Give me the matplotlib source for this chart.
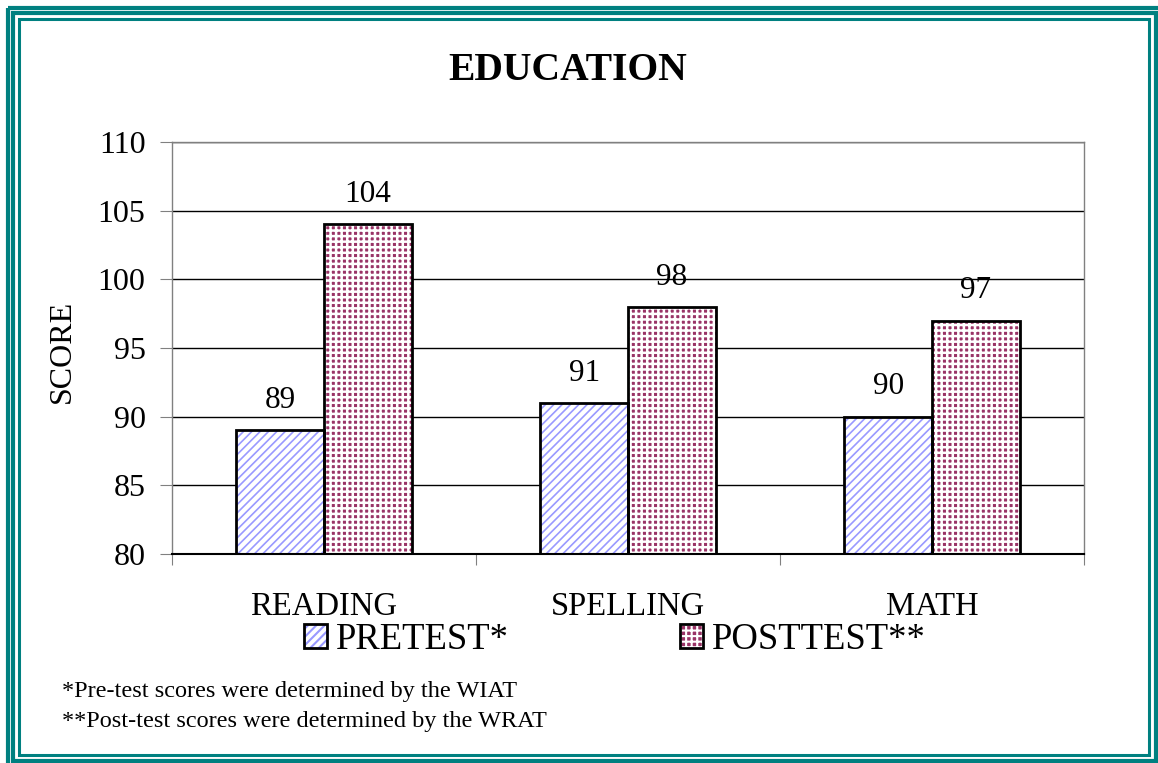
import numpy as np
import matplotlib
matplotlib.use("Agg")
import matplotlib.pyplot as plt
from matplotlib.patches import Patch, Rectangle

plt.rcParams['font.family'] = ['Liberation Serif', 'DejaVu Serif']
plt.rcParams['hatch.linewidth'] = 1.5

# data
categories = ['READING', 'SPELLING', 'MATH']
pretest = [89, 91, 90]
posttest = [104, 98, 97]
series_names = ['PRETEST*', 'POSTTEST**']
footnotes = ['*Pre-test scores were determined by the WIAT',
             '**Post-test scores were determined by the WRAT']

teal = '#008080'
pre_col = '#9999FF'
post_col = '#993366'


def hatch_width(patches, lw):
    # per-patch hatch width if this matplotlib has it
    for p in patches:
        if hasattr(p, 'set_hatch_linewidth'):
            p.set_hatch_linewidth(lw)


fig = plt.figure(figsize=(11.58, 7.63), dpi=100)

# frame drawn in pixel coordinates
frame = fig.add_axes([0, 0, 1, 1])
frame.set_xlim(0, 1158)
frame.set_ylim(763, 0)
frame.axis('off')
for (l, t, r, b, w) in [(7.5, 7.5, 1163, 768, 3.0),
                        (13.0, 13.0, 1155.5, 761, 3.0),
                        (18.5, 18.5, 1149.0, 755, 2.2)]:
    frame.add_patch(Rectangle((l, t), r - l, b - t, fill=False,
                              edgecolor=teal, linewidth=w))

ax = fig.add_axes([0.1485, 0.2739, 0.7876, 0.54])
x = np.arange(len(categories))
w = 0.288
base = 80

# pretest: light blue stripes on white
h = np.array(pretest) - base
bars = ax.bar(x - w / 2, h, w, bottom=base, color='white',
              edgecolor=pre_col, hatch='////', linewidth=0, zorder=2)
hatch_width(bars, 1.2)
ax.bar(x - w / 2, h, w, bottom=base, fill=False, edgecolor='black',
       linewidth=2, zorder=3)

# posttest: maroon background with white grid -> dotted look
h = np.array(posttest) - base
bars = ax.bar(x + w / 2, h, w, bottom=base, color=post_col,
              edgecolor='white', hatch='+++', linewidth=0, zorder=2)
hatch_width(bars, 1.8)
ax.bar(x + w / 2, h, w, bottom=base, fill=False, edgecolor='black',
       linewidth=2, zorder=3)

for off, vals in [(-w / 2, pretest), (w / 2, posttest)]:
    for xi, v in zip(x + off, vals):
        ax.annotate(str(v), (xi, v), xytext=(0, 16), textcoords='offset points',
                    ha='center', va='baseline', fontsize=22.5)

ax.set_ylim(80, 110)
ax.set_xlim(-0.5, 2.5)
ax.set_yticks(np.arange(80, 111, 5))
ax.tick_params(axis='y', labelsize=23, length=9, color='#808080', pad=10)
ax.yaxis.grid(True, color='black', linewidth=1)
ax.set_axisbelow(True)

ax.set_xticks([-0.5, 0.5, 1.5, 2.5])
ax.set_xticklabels([])
ax.tick_params(axis='x', which='major', length=8, color='#808080')
ax.set_xticks(x, minor=True)
ax.set_xticklabels(categories, minor=True)
ax.tick_params(axis='x', which='minor', length=0, labelsize=23.5, pad=27)

for s in ['left', 'right', 'top']:
    ax.spines[s].set_color('#808080')
    ax.spines[s].set_linewidth(1)
ax.spines['bottom'].set_color('black')
ax.spines['bottom'].set_linewidth(1.5)

fig.text(62 / 1158, 0.54, 'SCORE', rotation=90, ha='center', va='center', fontsize=23)
fig.text(0.4905, 0.895, 'EDUCATION', ha='center', va='baseline',
         fontsize=28.5, fontweight='bold')

# legend handles: hatch layer + black outline
p_pre = Patch(facecolor='white', edgecolor=pre_col, hatch='////', linewidth=0)
p_post = Patch(facecolor=post_col, edgecolor='white', hatch='+++', linewidth=0)
hatch_width([p_pre], 1.2)
hatch_width([p_post], 1.8)
h_pre = (p_pre, Patch(fill=False, edgecolor='black', linewidth=2))
h_post = (p_post, Patch(fill=False, edgecolor='black', linewidth=2))
fig.legend([h_pre, h_post], series_names, loc='center',
           bbox_to_anchor=(615 / 1158, 1 - 640 / 763), ncol=2, frameon=False,
           fontsize=26.4, handlelength=0.62, handleheight=0.62,
           handletextpad=0.26, columnspacing=4.65)

fig.text(62 / 1158, 1 - 697 / 763, footnotes[0], fontsize=17.5, va='baseline')
fig.text(62 / 1158, 1 - 727 / 763, footnotes[1], fontsize=17.5, va='baseline')

fig.savefig('out.png', dpi=100)
